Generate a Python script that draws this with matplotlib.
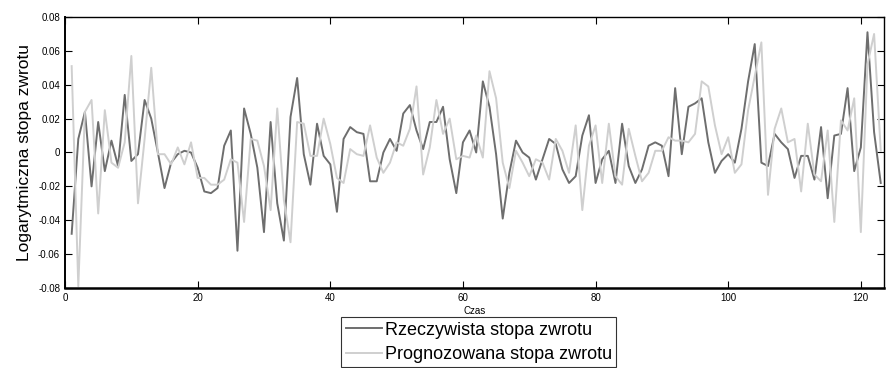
import matplotlib

matplotlib.use("Agg")
import matplotlib.pyplot as plt
import numpy as np

# values, t = 1..123
rzeczywista = [
    -0.048, 0.008, 0.024, -0.020, 0.018, -0.011, 0.007, -0.008, 0.034, -0.005,
    -0.001, 0.031, 0.020, 0.000, -0.021, -0.006, -0.001, 0.001, 0.000, -0.009,
    -0.023, -0.024, -0.021, 0.004, 0.013, -0.058, 0.026, 0.011, -0.009, -0.047,
    0.018, -0.030, -0.052, 0.021, 0.044, -0.001, -0.019, 0.017, -0.002, -0.007,
    -0.035, 0.008, 0.015, 0.012, 0.011, -0.017, -0.017, 0.000, 0.008, 0.001,
    0.023, 0.028, 0.013, 0.002, 0.018, 0.018, 0.027, -0.004, -0.024, 0.006,
    0.013, 0.000, 0.042, 0.027, -0.001, -0.039, -0.012, 0.007, 0.000, -0.003,
    -0.016, -0.004, 0.008, 0.005, -0.010, -0.018, -0.014, 0.010, 0.022, -0.018,
    -0.004, 0.001, -0.018, 0.017, -0.008, -0.018, -0.010, 0.004, 0.006, 0.004,
    -0.014, 0.038, -0.001, 0.027, 0.029, 0.032, 0.006, -0.012, -0.005, -0.001,
    -0.006, 0.014, 0.042, 0.064, -0.006, -0.008, 0.011, 0.006, 0.002, -0.015,
    -0.002, -0.002, -0.016, 0.015, -0.027, 0.010, 0.011, 0.038, -0.011, 0.003,
    0.071, 0.012, -0.018,
]
prognozowana = [
    0.051, -0.079, 0.024, 0.031, -0.036, 0.025, -0.006, -0.009, 0.006, 0.057,
    -0.030, 0.008, 0.050, -0.001, -0.001, -0.007, 0.003, -0.007, 0.006, -0.015,
    -0.015, -0.019, -0.019, -0.016, -0.004, -0.006, -0.041, 0.008, 0.007, -0.008,
    -0.034, 0.026, -0.028, -0.053, 0.018, 0.017, -0.002, -0.002, 0.020, 0.005,
    -0.015, -0.018, 0.002, -0.001, -0.002, 0.016, -0.003, -0.012, -0.006, 0.006,
    0.004, 0.014, 0.039, -0.013, 0.003, 0.031, 0.011, 0.020, -0.004, -0.002,
    -0.003, 0.010, -0.003, 0.048, 0.032, -0.006, -0.021, 0.001, -0.006, -0.014,
    -0.004, -0.006, -0.016, 0.008, 0.001, -0.012, 0.016, -0.034, 0.004, 0.016,
    -0.018, 0.017, -0.014, -0.019, 0.014, -0.002, -0.017, -0.012, 0.001, 0.001,
    0.009, 0.007, 0.007, 0.006, 0.011, 0.042, 0.039, 0.016, -0.001, 0.009,
    -0.012, -0.007, 0.025, 0.045, 0.065, -0.025, 0.014, 0.026, 0.006, 0.008,
    -0.023, 0.017, -0.013, -0.017, 0.013, -0.041, 0.019, 0.013, 0.032, -0.047,
    0.052, 0.070, 0.001,
]
czas = np.arange(1, len(rzeczywista) + 1)

xticks = [0, 20, 40, 60, 80, 100, 120]
yticks = [-0.08, -0.06, -0.04, -0.02, 0, 0.02, 0.04, 0.06, 0.08]
ytick_labels = ["-0.08", "-0.06", "-0.04", "-0.02", "0", "0.02", "0.04", "0.06", "0.08"]

plt.rcParams["font.family"] = ["Liberation Sans Narrow", "Liberation Sans", "DejaVu Sans"]

fig = plt.figure(figsize=(8.86, 3.68), dpi=100)
ax = fig.add_axes([0.0734, 0.2174, 0.9244, 0.7364])

ax.plot(czas, rzeczywista, color="#6e6e6e", lw=1.4, label="Rzeczywista stopa zwrotu")
ax.plot(czas, prognozowana, color="#cfcfcf", lw=1.4, label="Prognozowana stopa zwrotu")

ax.set_xlim(0, 123.5)
ax.set_ylim(-0.08, 0.08)
ax.set_xticks(xticks)
ax.set_yticks(yticks)
ax.set_yticklabels(ytick_labels)
ax.tick_params(direction="in", top=True, right=True, labelsize=7, length=5, width=0.8)
for sp in ax.spines.values():
    sp.set_linewidth(1.0)
ax.spines["bottom"].set_linewidth(1.8)
ax.spines["left"].set_linewidth(1.4)

ax.set_xlabel("Czas", fontsize=7, labelpad=2)
ax.set_ylabel("Logarytmiczna stopa zwrotu", fontsize=12.5, labelpad=4)

leg = fig.legend(
    loc="upper center", bbox_to_anchor=(0.5406, 0.138), fontsize=13,
    frameon=True, fancybox=False, handlelength=2.0, handletextpad=0.15,
    borderpad=0.25, labelspacing=0.4, borderaxespad=0,
)
leg.get_frame().set_edgecolor("black")
leg.get_frame().set_linewidth(0.8)

fig.savefig("out.png", dpi=100)
